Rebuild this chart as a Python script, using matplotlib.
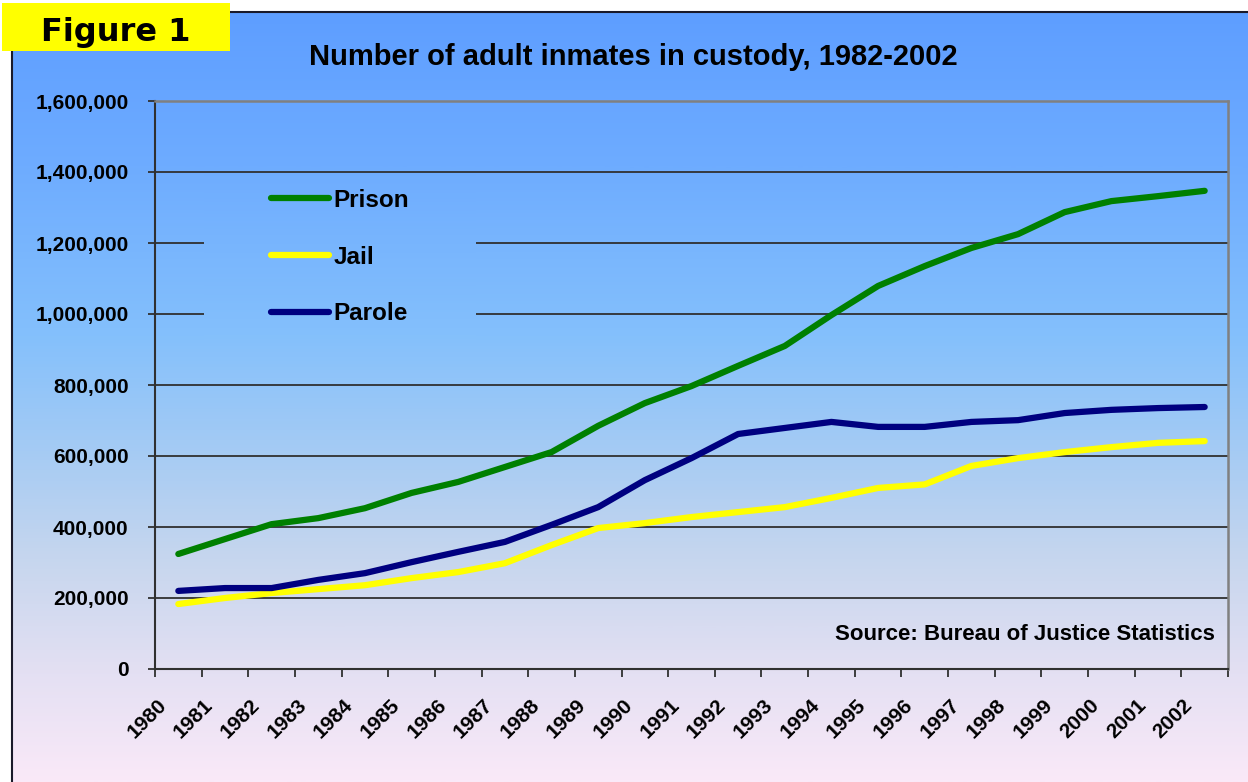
import numpy as np
import matplotlib.pyplot as plt
from matplotlib.colors import LinearSegmentedColormap
from matplotlib.patches import Rectangle
from matplotlib.ticker import FuncFormatter, MultipleLocator
from matplotlib.transforms import ScaledTranslation

plt.rcParams['font.family'] = ['Liberation Sans', 'DejaVu Sans']
plt.rcParams['font.weight'] = 'bold'

# Adult correctional population by year
years = list(range(1980, 2003))
prison = [324000, 366000, 408000, 425000, 453000, 496000, 527000, 569000,
          611000, 685000, 749000, 797000, 854000, 910000, 997000, 1079000,
          1135000, 1186000, 1225000, 1287000, 1318000, 1332000, 1347000]
jail = [183000, 200000, 214000, 225000, 236000, 256000, 273000, 298000,
        349000, 397000, 411000, 428000, 442000, 456000, 482000, 510000,
        520000, 572000, 594000, 611000, 625000, 637000, 642000]
parole = [220000, 228000, 228000, 251000, 270000, 301000, 330000, 358000,
          406000, 456000, 532000, 594000, 662000, 679000, 696000, 682000,
          682000, 696000, 701000, 721000, 730000, 735000, 738000]

W, H = 1248, 782
fig = plt.figure(figsize=(W / 100, H / 100), dpi=100)
fig.patch.set_facecolor('white')


def fx(px):
    return px / W


def fy(px):
    return 1 - px / H


# blue-to-lavender backdrop
bg_cmap = LinearSegmentedColormap.from_list('bg', [
    (0.00, (94/255, 158/255, 255/255)),
    (0.20, (110/255, 172/255, 255/255)),
    (0.42, (132/255, 192/255, 252/255)),
    (0.57, (165/255, 203/255, 244/255)),
    (0.71, (198/255, 214/255, 238/255)),
    (0.86, (228/255, 224/255, 243/255)),
    (1.00, (250/255, 233/255, 248/255)),
])
panel_top = 12
panel_h = H - panel_top

bg = fig.add_axes([fx(12), 0, 1 - fx(12), fy(panel_top)])
bg.imshow(np.linspace(0, 1, 512).reshape(-1, 1), cmap=bg_cmap, vmin=0, vmax=1,
          aspect='auto', extent=[0, 1, 0, 1])
bg.set_xticks([])
bg.set_yticks([])
for side in ['right', 'bottom']:
    bg.spines[side].set_visible(False)
for side in ['top', 'left']:
    bg.spines[side].set_color('#1a1a2a')
    bg.spines[side].set_linewidth(1.5)

# main plot area
ax = fig.add_axes([fx(155), fy(669), fx(1228 - 155), (669 - 101) / H])
ax.set_facecolor('none')
x = np.arange(len(years))
ax.plot(x, prison, color='#008000', lw=4.5, solid_capstyle='round', solid_joinstyle='round', label='Prison')
ax.plot(x, jail, color='#FFFF00', lw=4.5, solid_capstyle='round', solid_joinstyle='round', label='Jail')
ax.plot(x, parole, color='#000080', lw=4.5, solid_capstyle='round', solid_joinstyle='round', label='Parole')

ax.set_xlim(-0.5, len(years) - 0.5)
ax.set_ylim(0, 1600000)
ax.yaxis.set_major_locator(MultipleLocator(200000))
ax.yaxis.set_major_formatter(FuncFormatter(lambda v, p: f'{v:,.0f}'))
ax.grid(axis='y', color='#303030', lw=1.3)
ax.set_axisbelow(True)
ax.tick_params(axis='y', length=5, width=1.3, color='#303030', labelsize=15, pad=14)

ax.set_xticks(x, [str(y) for y in years])
ax.set_xticks(np.arange(-0.5, len(years)), minor=True)
ax.tick_params(axis='x', which='major', length=0, labelsize=15, pad=24)
ax.tick_params(axis='x', which='minor', length=6, width=1.3, color='#303030')
shift = ScaledTranslation(-15 / 100, 0, fig.dpi_scale_trans)
for lbl in ax.get_xticklabels():
    lbl.set_rotation(45)
    lbl.set_ha('right')
    lbl.set_va('center')
    lbl.set_rotation_mode('anchor')
    lbl.set_transform(lbl.get_transform() + shift)

for side in ['left', 'bottom']:
    ax.spines[side].set_color('#303030')
    ax.spines[side].set_linewidth(1.5)
for side in ['top', 'right']:
    ax.spines[side].set_color('#808080')
    ax.spines[side].set_linewidth(1.8)

ax.text(0.988, 0.060, 'Source: Bureau of Justice Statistics', transform=ax.transAxes,
        ha='right', va='center', fontsize=16)

# legend sits on its own patch of backdrop, hiding the gridlines behind it
lg_top, lg_bot = 173, 341
lax = fig.add_axes([fx(204), fy(lg_bot), fx(476 - 204), (lg_bot - lg_top) / H])
f0 = (lg_top - panel_top) / panel_h
f1 = (lg_bot - panel_top) / panel_h
lax.imshow(np.linspace(f0, f1, 128).reshape(-1, 1), cmap=bg_cmap, vmin=0, vmax=1,
           aspect='auto', extent=[0, 1, 0, 1])
lax.set_axis_off()
handles, labels = ax.get_legend_handles_labels()
lax.legend(handles, labels, loc='center', frameon=False, fontsize=17.5,
           handlelength=2.4, handletextpad=0.2, labelspacing=1.38)

fig.text(fx(633), fy(57), 'Number of adult inmates in custody, 1982-2002',
         ha='center', va='center', fontsize=21)

fig.add_artist(Rectangle((fx(2), fy(51)), fx(228), 48 / H, transform=fig.transFigure,
                         facecolor='#FFFF00', edgecolor='none', zorder=5))
fig.text(fx(116), fy(33), 'Figure 1', ha='center', va='center', fontsize=23,
         family='DejaVu Sans', zorder=6)

fig.savefig('out.png', dpi=100)
